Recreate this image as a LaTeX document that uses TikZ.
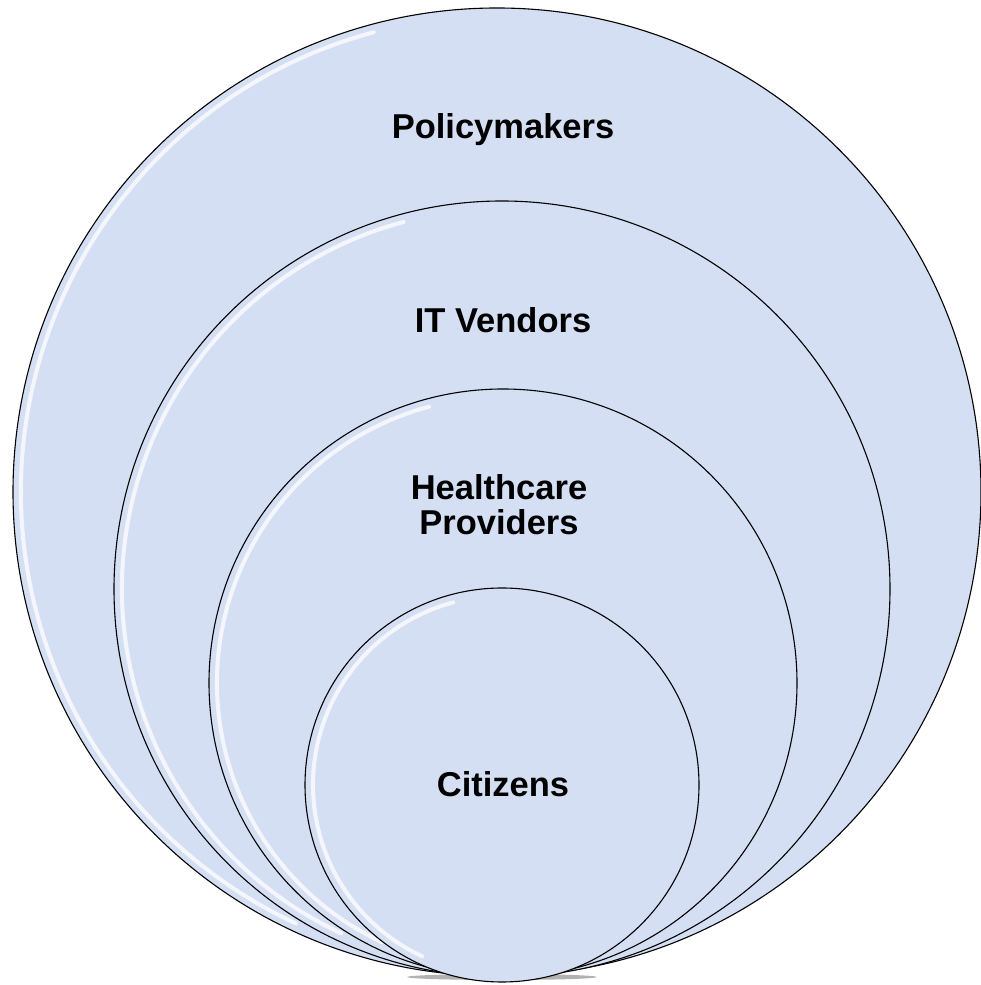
\documentclass[tikz,border=0pt]{standalone}
\usepackage{fontspec}
\setmainfont{Liberation Sans}
\usetikzlibrary{calc}
\definecolor{ringblue}{RGB}{213,223,243}
\tikzset{
	ring/.style={draw=black,line width=1.1pt,fill=ringblue},
	gloss/.style={white,line width=4pt,opacity=0.75,line cap=round},
	lbl/.style={font=\fontsize{34.5}{35}\selectfont\bfseries,align=center,text=black}
}
\begin{document}
\begin{tikzpicture}[x=1pt,y=1pt]
	\useasboundingbox (0,0) rectangle (980,985);
	% shadow under the rings
	\fill[black,opacity=0.3] (502,8) ellipse (95 and 3);
	% Rings, outer to inner
	\foreach \cx/\cy/\r in {497/493/484,502/396/388,503/302/294,502/200/197}{
		\draw[ring] (\cx,\cy) circle (\r);
		\draw[gloss] ($(\cx,\cy)+({(\r-8)*cos(105)},{(\r-8)*sin(105)})$) arc (105:245:\r-8);
	}
	% Beschriftungen
	\node[lbl] (policy) at (503,855) {Policymakers};
	\node[lbl] (vendors) at (503,665) {IT Vendors};
	\node[lbl] (providers) at (499,480) {Healthcare\\Providers};
	\node[lbl] (citizens) at (503,201) {Citizens};
\end{tikzpicture}
\end{document}
